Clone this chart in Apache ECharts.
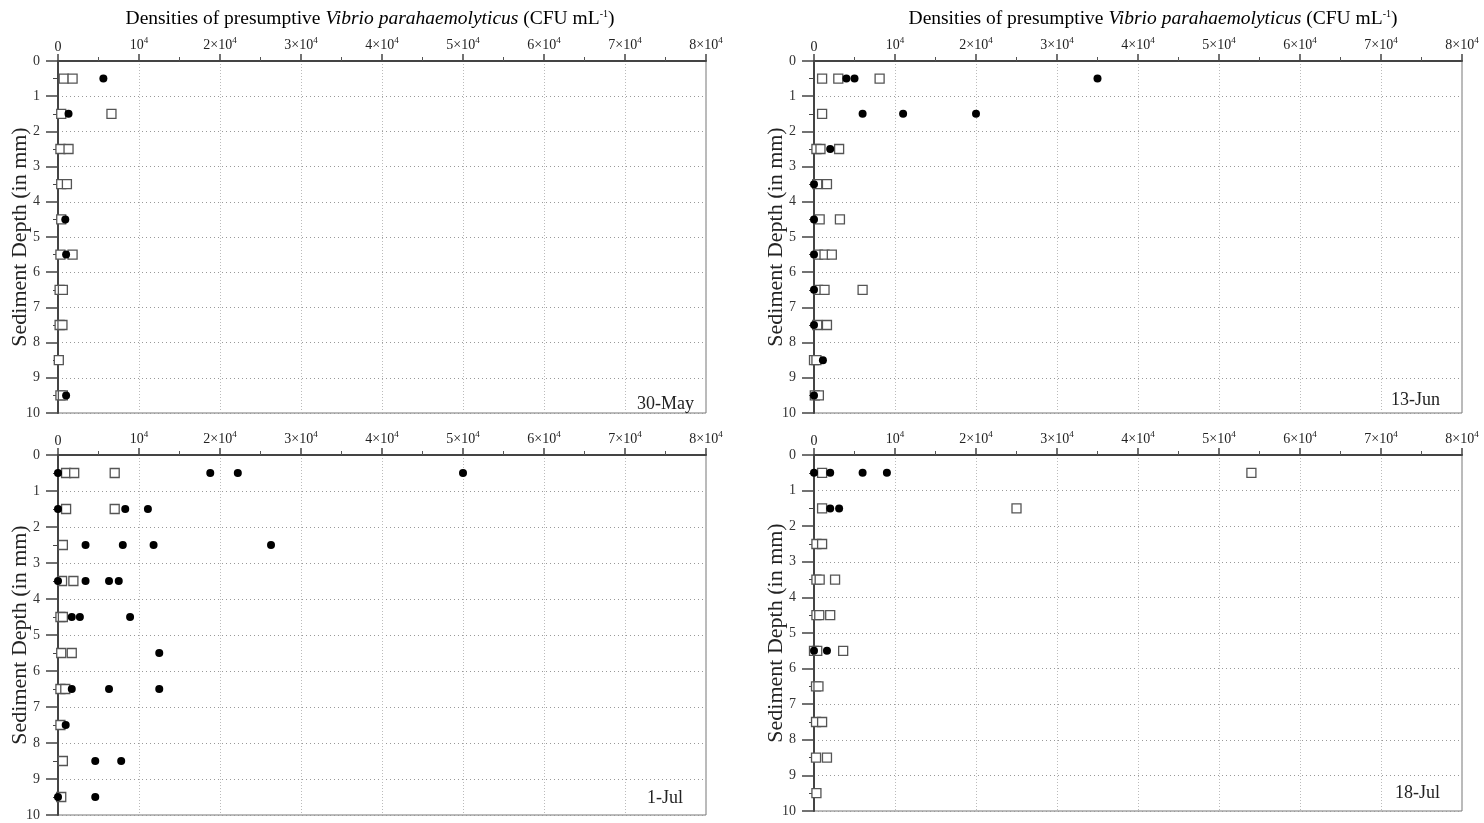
<!DOCTYPE html>
<html>
<head>
<meta charset="utf-8">
<script src="https://cdn.jsdelivr.net/npm/echarts@6/dist/echarts.min.js"></script>
<style>
  html, body { margin: 0; padding: 0; background: #fff; }
  #chart { width: 1484px; height: 823px; }
</style>
</head>
<body>
<div id="chart"></div>
<script>
// depth of each sampled layer (mm), one entry per row
const depths = [0.5, 1.5, 2.5, 3.5, 4.5, 5.5, 6.5, 7.5, 8.5, 9.5];
const xTickLabels = ['0', '10^4', '2×10^4', '3×10^4', '4×10^4', '5×10^4', '6×10^4', '7×10^4', '8×10^4'];
const panelNames = ['30-May', '13-Jun', '1-Jul', '18-Jul'];

// open squares / filled circles, values per depth row (CFU mL-1)
const may30Squares = [[700, 1800], [400, 6600], [300, 1300], [400, 1100], [400], [300, 1800], [200, 600], [200, 550], [100], [300, 600]];
const may30Circles = [[5600], [1300], [], [], [900], [1000], [], [], [], [1000]];

const jun13Squares = [[1000, 3000, 8100], [1000], [300, 800, 3100], [400, 1600], [700, 3200], [500, 1300, 2200], [500, 1300, 6000], [400, 1600], [0, 300], [100, 600]];
const jun13Circles = [[4000, 5000, 35000], [6000, 11000, 20000], [2000], [0], [0], [0], [0], [0], [1100], [0]];

const jul1Squares = [[1000, 2000, 7000], [1000, 7000], [600], [500, 1900], [300, 600], [400, 1700], [300, 900], [300], [600], [400]];
const jul1Circles = [[0, 18800, 22200, 50000], [0, 8300, 11100], [3400, 8000, 11800, 26300], [0, 3400, 6300, 7500], [1700, 2700, 8900], [12500], [1700, 6300, 12500], [950], [4600, 7800], [0, 4600]];

const jul18Squares = [[1000, 54000], [1000, 25000], [300, 1000], [300, 700, 2600], [300, 650, 2000], [0, 400, 3600], [250, 550], [250, 1000], [250, 1600], [300]];
const jul18Circles = [[0, 2000, 6000, 9000], [2000, 3100], [], [], [], [0, 1600], [], [], [], []];

const squaresByPanel = [may30Squares, jun13Squares, jul1Squares, jul18Squares];
const circlesByPanel = [may30Circles, jun13Circles, jul1Circles, jul18Circles];

const FONT = '"Liberation Serif", "DejaVu Serif", serif';

function toPoints(rows) {
  const pts = [];
  rows.forEach((vals, i) => vals.forEach(v => pts.push([v, depths[i]])));
  return pts;
}

const grids = [
  { left: 58, top: 61, width: 648, height: 352 },
  { left: 814, top: 61, width: 648, height: 352 },
  { left: 58, top: 455, width: 648, height: 360 },
  { left: 814, top: 455, width: 648, height: 356 }
];
// where the date label sits, measured in from the grid's bottom-right corner
const labelInset = [[12, 9], [22, 13], [23, 17], [22, 18]];

const option = {
  animation: false,
  backgroundColor: '#fff',
  grid: grids.map(g => ({ ...g, show: true, borderColor: '#777', borderWidth: 1, backgroundColor: 'transparent' })),
  xAxis: grids.map((g, i) => ({
    gridIndex: i,
    type: 'value',
    position: 'top',
    min: 0,
    max: 80000,
    interval: 10000,
    axisLine: { show: true, lineStyle: { color: '#444', width: 2 } },
    axisTick: { show: true, length: 7, lineStyle: { color: '#444', width: 1.5 } },
    minorTick: { show: true, splitNumber: 2, length: 4, lineStyle: { color: '#555' } },
    splitLine: { show: true, lineStyle: { color: '#bbb', type: [1, 2], width: 1 } },
    axisLabel: {
      margin: 7,
      fontFamily: FONT,
      fontSize: 14,
      color: '#222',
      formatter: (v) => {
        const s = xTickLabels[Math.round(v / 10000)] || '';
        const k = s.indexOf('^');
        if (k < 0) return '{b|' + s + '}';
        return '{b|' + s.slice(0, k) + '}{s|' + s.slice(k + 1) + '}';
      },
      rich: {
        b: { fontFamily: FONT, fontSize: 14, color: '#222' },
        s: { fontFamily: FONT, fontSize: 9, color: '#222', padding: [0, 0, 9, 0] }
      }
    }
  })),
  yAxis: grids.map((g, i) => ({
    gridIndex: i,
    type: 'value',
    inverse: true,
    min: 0,
    max: 10,
    interval: 1,
    name: 'Sediment Depth (in mm)',
    nameLocation: 'middle',
    nameGap: 27,
    nameMoveOverlap: false,
    nameTextStyle: { fontFamily: FONT, fontSize: 22, color: '#222' },
    axisLine: { show: true, lineStyle: { color: '#444', width: 2 } },
    axisTick: { show: true, length: 12, lineStyle: { color: '#444', width: 1.5 } },
    minorTick: { show: true, splitNumber: 2, length: 5, lineStyle: { color: '#444' } },
    splitLine: { show: true, lineStyle: { color: '#999', type: [1, 3], width: 1 } },
    axisLabel: { margin: 18, fontFamily: FONT, fontSize: 14, color: '#333' }
  })),
  series: [],
  graphic: []
};

squaresByPanel.forEach((rows, i) => {
  option.series.push({
    type: 'scatter',
    xAxisIndex: i,
    yAxisIndex: i,
    symbol: 'rect',
    symbolSize: 9,
    itemStyle: { color: '#fff', borderColor: '#555', borderWidth: 1.3, opacity: 1 },
    data: toPoints(rows),
    z: 3
  });
});
circlesByPanel.forEach((rows, i) => {
  option.series.push({
    type: 'scatter',
    xAxisIndex: i,
    yAxisIndex: i,
    symbol: 'circle',
    symbolSize: 8,
    itemStyle: { color: '#000', opacity: 1 },
    data: toPoints(rows),
    z: 4
  });
});

// titles above the top two panels
const titleRich = {
  n: { fontFamily: FONT, fontSize: 19.5, color: '#222' },
  i: { fontFamily: FONT, fontSize: 19.5, fontStyle: 'italic', color: '#222' },
  s: { fontFamily: FONT, fontSize: 10, color: '#222', padding: [0, 0, 10, 0] }
};
[370, 1153].forEach(cx => {
  option.graphic.push({
    type: 'text',
    x: cx,
    y: 19,
    style: {
      text: '{n|Densities of presumptive }{i|Vibrio parahaemolyticus}{n| (CFU mL}{s|-1}{n|)}',
      rich: titleRich,
      align: 'center',
      verticalAlign: 'middle'
    }
  });
});

// date label in the lower right corner of each panel
grids.forEach((g, i) => {
  option.graphic.push({
    type: 'text',
    x: g.left + g.width - labelInset[i][0],
    y: g.top + g.height - labelInset[i][1],
    style: {
      text: panelNames[i],
      font: '18px ' + FONT,
      fill: '#222',
      align: 'right',
      verticalAlign: 'middle'
    }
  });
});

const myChart = echarts.init(document.getElementById('chart'));
myChart.setOption(option);
</script>
</body>
</html>
